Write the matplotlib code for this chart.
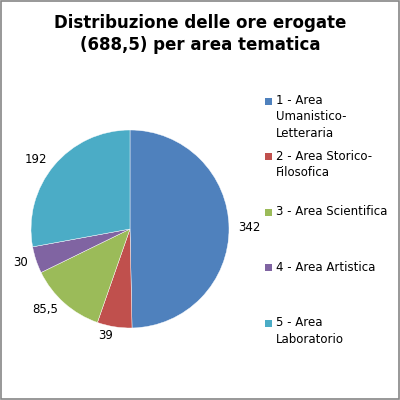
import matplotlib
matplotlib.use("Agg")
import matplotlib.pyplot as plt
from matplotlib.patches import Rectangle

# data
areas = ['1 - Area\nUmanistico-\nLetteraria', '2 - Area Storico-\nFilosofica',
         '3 - Area Scientifica', '4 - Area Artistica', '5 - Area\nLaboratorio']
ore = [342, 39, 85.5, 30, 192]
value_labels = ['342', '39', '85,5', '30', '192']
colors = ['#4F81BD', '#C0504D', '#9BBB59', '#8064A2', '#4BACC6']

plt.rcParams['font.family'] = ['DejaVu Sans']

fig = plt.figure(figsize=(4, 4), dpi=100)
fig.patch.set_facecolor('white')

# grey frame around the chart area
fig.patches.append(Rectangle((0.003, 0.003), 0.994, 0.994, transform=fig.transFigure,
                             fill=False, edgecolor='#868686', linewidth=1.2))

fig.text(0.5, 1 - 34 / 400, 'Distribuzione delle ore erogate\n(688,5) per area tematica',
         ha='center', va='center', fontsize=12, fontweight='bold', linespacing=1.35)

# pie: center ~ (130, 229) px, radius ~ 99 px
ax = fig.add_axes([31 / 400, 72 / 400, 198 / 400, 198 / 400])
wedges, texts = ax.pie(ore, labels=value_labels, colors=colors, startangle=90,
                       counterclock=False, labeldistance=1.09, radius=1,
                       wedgeprops=dict(edgecolor='white', linewidth=0.3),
                       textprops=dict(fontsize=8.5, color='black'))
ax.set_xlim(-1, 1)
ax.set_ylim(-1, 1)
ax.set_aspect('equal')
ax.axis('off')

# legend on the right, evenly spaced like Excel
y0 = 1 - 101 / 400
step = 55.6 / 400
for i, (lab, col) in enumerate(zip(areas, colors)):
    y = y0 - i * step
    fig.patches.append(Rectangle((265 / 400, y - 3.5 / 400), 7 / 400, 7 / 400,
                                 transform=fig.transFigure, facecolor=col, edgecolor='none'))
    fig.text(276 / 400, y + 7 / 400, lab, ha='left', va='top', fontsize=8.5,
             linespacing=1.35)

fig.savefig('out.png', dpi=100)
